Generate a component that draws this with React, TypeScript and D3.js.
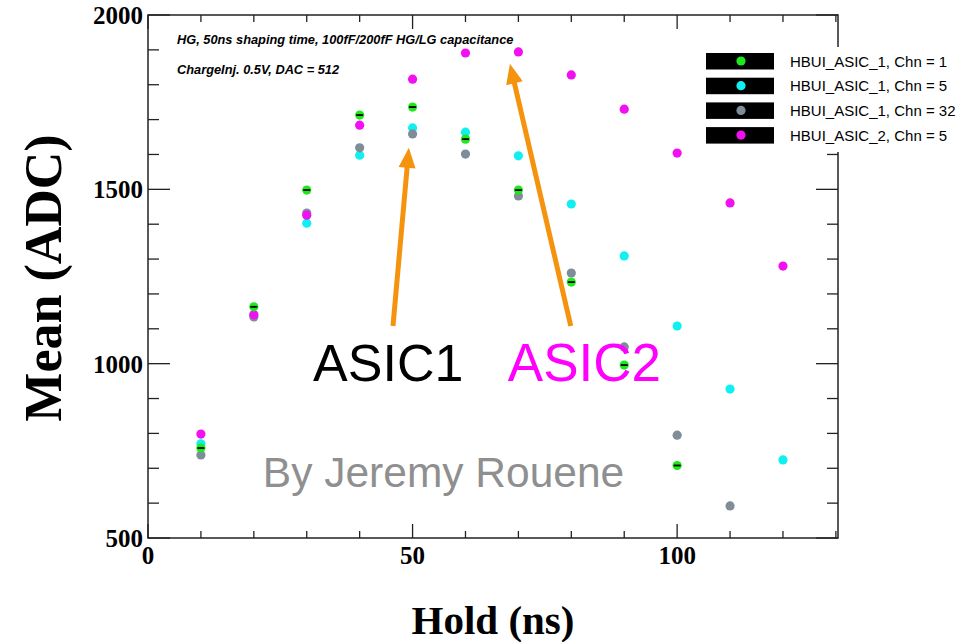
import React from "react";
import * as d3 from "d3";

const holds = [10, 20, 30, 40, 50, 60, 70, 80, 90, 100, 110, 120];
const chn1Asic1 = [758, 1163, 1498, 1713, 1736, 1644, 1498, 1234, 996, 708];
const chn5Asic1 = [770, 1140, 1403, 1598, 1676, 1664, 1596, 1458, 1309, 1108, 927, 724];
const chn32Asic1 = [738, 1134, 1432, 1619, 1659, 1601, 1481, 1260, 1048, 795, 592];
const chn5Asic2 = [798, 1140, 1426, 1684, 1816, 1891, 1894, 1828, 1730, 1604, 1461, 1280];

const seriesNames = [
  "HBUI_ASIC_1, Chn = 1",
  "HBUI_ASIC_1, Chn = 5",
  "HBUI_ASIC_1, Chn = 32",
  "HBUI_ASIC_2, Chn = 5",
];
const seriesColors = ["#1fe81f", "#10f0f0", "#7f8d99", "#f210f2"];
const seriesValues = [chn1Asic1, chn5Asic1, chn32Asic1, chn5Asic2];
const drawOrder = [1, 2, 3, 0];

const xMajorTicks = [0, 50, 100];
const yMajorTicks = [500, 1000, 1500, 2000];

const W = 965;
const H = 642;

export default function App() {
  const x = d3.scaleLinear().domain([0, 130.4]).range([148, 838]);
  const y = d3.scaleLinear().domain([500, 2000]).range([538, 15]);
  const [x0, x1] = x.range();
  const [y0, y1] = y.range();
  const xMinor = d3.range(0, 131, 10);
  const yMinor = d3.range(500, 2001, 100);
  const axisCol = "#222";
  const orange = "#f5930f";

  const arrow = (tx: number, ty: number, hx: number, hy: number, key: string) => {
    const ax = x(tx), ay = y(ty), bx = x(hx), by = y(hy);
    const dx = bx - ax, dy = by - ay;
    const len = Math.hypot(dx, dy);
    const ux = dx / len, uy = dy / len;
    const hl = 20, hw = 8.5;
    const baseX = bx - ux * hl, baseY = by - uy * hl;
    const px = -uy, py = ux;
    return (
      <g key={key}>
        <line x1={ax} y1={ay} x2={baseX + ux * 2} y2={baseY + uy * 2} stroke={orange} strokeWidth={5} />
        <polygon
          points={`${bx},${by} ${baseX + px * hw},${baseY + py * hw} ${baseX - px * hw},${baseY - py * hw}`}
          fill={orange}
        />
      </g>
    );
  };

  return (
    <svg width={W} height={H} style={{ position: "absolute", left: 0, top: 0, background: "#fff" }}>
      <rect x={0} y={0} width={W} height={H} fill="#fff" />
      {/* frame */}
      <rect x={x0} y={y1} width={x1 - x0} height={y0 - y1} fill="none" stroke={axisCol} strokeWidth={1.5} />
      {/* x ticks bottom & top */}
      {xMinor.map((v) => {
        const major = xMajorTicks.includes(v);
        const l = major ? 14 : 7;
        return (
          <g key={"xt" + v}>
            <line x1={x(v)} x2={x(v)} y1={y0} y2={y0 - l} stroke={axisCol} strokeWidth={1.3} />
            <line x1={x(v)} x2={x(v)} y1={y1} y2={y1 + l} stroke={axisCol} strokeWidth={1.3} />
          </g>
        );
      })}
      {yMinor.map((v) => {
        const major = yMajorTicks.includes(v);
        const l = major ? 22 : 11;
        return (
          <g key={"yt" + v}>
            <line x1={x0} x2={x0 + l} y1={y(v)} y2={y(v)} stroke={axisCol} strokeWidth={1.3} />
            <line x1={x1} x2={x1 - l} y1={y(v)} y2={y(v)} stroke={axisCol} strokeWidth={1.3} />
          </g>
        );
      })}
      {/* tick labels */}
      {xMajorTicks.map((v) => (
        <text key={"xl" + v} x={x(v)} y={564} textAnchor="middle"
          style={{ fontFamily: "Liberation Serif", fontWeight: "bold", fontSize: 25 }} fill="#000">
          {v}
        </text>
      ))}
      {yMajorTicks.map((v) => (
        <text key={"yl" + v} x={143} y={y(v) + 9} textAnchor="end"
          style={{ fontFamily: "Liberation Serif", fontWeight: "bold", fontSize: 25 }} fill="#000">
          {v}
        </text>
      ))}
      {/* axis titles */}
      <text x={493} y={634} textAnchor="middle"
        style={{ fontFamily: "Liberation Serif", fontWeight: "bold", fontSize: 41 }} fill="#000">
        Hold (ns)
      </text>
      <text transform={`translate(61,278) rotate(-90)`} textAnchor="middle"
        style={{ fontFamily: "Liberation Serif", fontWeight: "bold", fontSize: 52 }} fill="#000">
        Mean (ADC)
      </text>
      {/* data points */}
      {drawOrder.map((si) => (
        <g key={"s" + si}>
          {seriesValues[si].map((v, i) => (
            <g key={i}>
              <circle cx={x(holds[i])} cy={y(v)} r={4.6} fill={seriesColors[si]} />
              {si === 0 && (
                <line x1={x(holds[i]) - 3.5} x2={x(holds[i]) + 3.5} y1={y(v)} y2={y(v)} stroke="#000" strokeWidth={1.8} />
              )}
            </g>
          ))}
        </g>
      ))}
      {/* info text */}
      <text x={177} y={44} style={{ fontFamily: "Liberation Sans", fontStyle: "italic", fontSize: 12.8, fontWeight: 600 }} fill="#000">
        HG, 50ns shaping time, 100fF/200fF HG/LG capacitance
      </text>
      <text x={177} y={74} style={{ fontFamily: "Liberation Sans", fontStyle: "italic", fontSize: 12.8, fontWeight: 600 }} fill="#000">
        ChargeInj. 0.5V, DAC = 512
      </text>
      {/* legend */}
      <rect x={700} y={47} width={265} height={105} fill="#fff" />
      {seriesNames.map((name, i) => {
        const cy = 61 + i * 24.7;
        return (
          <g key={"lg" + i}>
            <rect x={706} y={cy - 8} width={68} height={16.5} fill="#000" />
            <circle cx={741} cy={cy} r={4.6} fill={seriesColors[i]} />
            <text x={790} y={cy + 5.5} style={{ fontFamily: "Liberation Sans", fontSize: 15 }} fill="#000">
              {name}
            </text>
          </g>
        );
      })}
      {/* arrows */}
      {arrow(46.3, 1108, 49.3, 1619, "a1")}
      {arrow(79.9, 1108, 68.4, 1860, "a2")}
      {/* annotations */}
      <text x={x(31.2)} y={381} style={{ fontFamily: "Liberation Sans", fontSize: 52 }} fill="#000">
        ASIC1
      </text>
      <text x={x(68.0)} y={381} style={{ fontFamily: "Liberation Sans", fontSize: 53 }} fill="#ff00ff">
        ASIC2
      </text>
      <text x={x(21.7)} y={487} style={{ fontFamily: "Liberation Sans", fontSize: 42.5 }} fill="#8f8f8f">
        By Jeremy Rouene
      </text>
    </svg>
  );
}
